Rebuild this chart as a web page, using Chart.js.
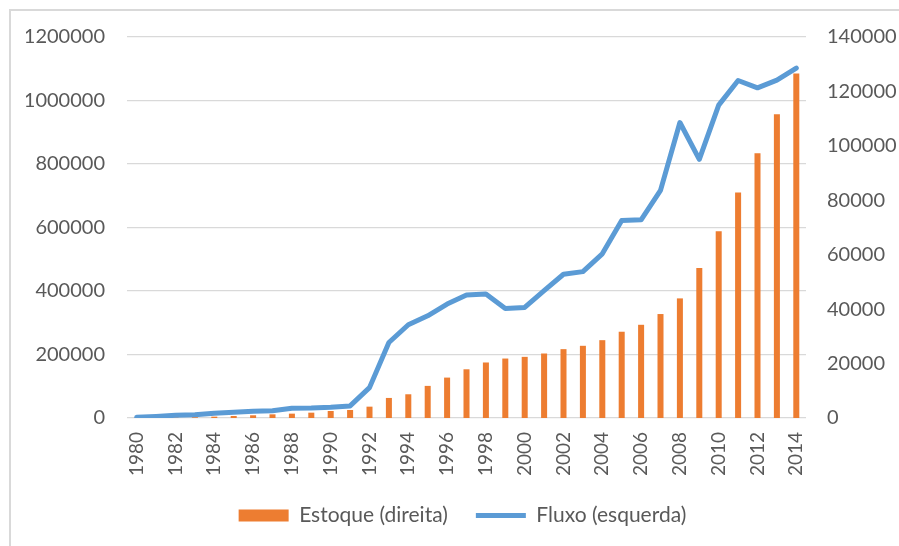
<!DOCTYPE html>
<html>
<head>
<meta charset="utf-8">
<script src="https://cdn.jsdelivr.net/npm/chart.js@4.4.1/dist/chart.umd.min.js"></script>
<style>
    body { margin: 0; background: #fff; overflow: hidden; }
    #wrap { position: relative; width: 899px; height: 546px; }
    #frame { position: absolute; left: 9px; top: 9px; width: 1000px; height: 1000px; border: 2px solid #d9d9d9; }
    #chart { position: absolute; left: 0; top: 0; }
</style>
</head>
<body>
<div id="wrap">
    <div id="frame"></div>
    <canvas id="chart" width="899" height="546"></canvas>
</div>
<script>
const years = [
    '1980', '1981', '1982', '1983', '1984', '1985', '1986', '1987', '1988', '1989',
    '1990', '1991', '1992', '1993', '1994', '1995', '1996', '1997', '1998', '1999',
    '2000', '2001', '2002', '2003', '2004', '2005', '2006', '2007', '2008', '2009',
    '2010', '2011', '2012', '2013', '2014'
];

// Estoque, eixo da direita
const estoque = [
    50, 100, 200, 300, 500, 740, 1000, 1350, 1600, 1960,
    2580, 2950, 4170, 7370, 8720, 11800, 14850, 17900, 20400, 21850,
    22470, 23700, 25300, 26530, 28600, 31700, 34250, 38200, 43950, 55150,
    68650, 82900, 97250, 111600, 126600
];

// Fluxo, eixo da esquerda
const fluxo = [
    2000, 5000, 8500, 10000, 15000, 18000, 21000, 23000, 30600, 31500,
    33800, 38000, 95700, 237800, 293700, 322000, 359000, 387500, 390600, 345200,
    348300, 401000, 452700, 461000, 517000, 622000, 624300, 716800, 930600, 814700,
    985300, 1063000, 1040000, 1064000, 1102000
];

const leftTicks = { max: 1200000, step: 200000 };
const rightTicks = { max: 140000, step: 20000 };

const laranja = '#ED7D31';
const azul = '#5B9BD5';
const cinza = '#595959';
const fonte = { family: 'Lato', size: 20 };
const fonteAnos = { family: 'Lato', size: 19 };
const fonteLegenda = { family: 'Lato', size: 21 };

const ctx = document.getElementById('chart').getContext('2d');

const config = {
    type: 'bar',
    data: {
        labels: years,
        datasets: [{
            type: 'bar',
            label: 'Estoque (direita)',
            data: estoque,
            yAxisID: 'y1',
            backgroundColor: laranja,
            borderWidth: 0,
            barPercentage: 0.31,
            categoryPercentage: 1,
            pointStyle: 'rect',
            order: 1
        }, {
            type: 'line',
            label: 'Fluxo (esquerda)',
            data: fluxo,
            yAxisID: 'y',
            borderColor: azul,
            backgroundColor: azul,
            borderWidth: 5,
            borderCapStyle: 'round',
            borderJoinStyle: 'round',
            pointRadius: 0,
            tension: 0,
            fill: false,
            pointStyle: 'line',
            order: 0
        }]
    },
    options: {
        responsive: false,
        animation: false,
        layout: {
            // padding esquerdo desloca a legenda para a direita
            padding: { left: 26, right: 0, top: 37, bottom: 10 }
        },
        plugins: {
            tooltip: { enabled: false },
            legend: {
                position: 'bottom',
                labels: {
                    usePointStyle: true,
                    pointStyleWidth: 50,
                    boxHeight: 12,
                    padding: 28,
                    color: cinza,
                    font: fonteLegenda,
                    sort: (a, b) => a.datasetIndex - b.datasetIndex
                }
            }
        },
        scales: {
            x: {
                grid: { display: false, drawTicks: false },
                border: { display: false },
                ticks: {
                    autoSkip: false,
                    minRotation: 90,
                    maxRotation: 90,
                    padding: 14,
                    color: cinza,
                    font: fonteAnos,
                    callback: (v, i) => (i % 2 === 0 ? years[i] : '')
                },
                afterFit: (scale) => { scale.height = 59; }
            },
            y: {
                position: 'left',
                min: 0,
                max: leftTicks.max,
                grid: { color: '#d9d9d9', lineWidth: 1.3, drawTicks: false },
                border: { display: false },
                ticks: {
                    stepSize: leftTicks.step,
                    padding: 22,
                    color: cinza,
                    font: fonte,
                    callback: (v) => String(v)
                },
                afterFit: (scale) => { scale.width = 101; }
            },
            y1: {
                position: 'right',
                min: 0,
                max: rightTicks.max,
                grid: { display: false, drawTicks: false },
                border: { display: false },
                ticks: {
                    stepSize: rightTicks.step,
                    padding: 21,
                    color: cinza,
                    font: fonte,
                    callback: (v) => String(v)
                },
                afterFit: (scale) => { scale.width = 93; }
            }
        }
    }
};

const chart = new Chart(ctx, config);
</script>
</body>
</html>
